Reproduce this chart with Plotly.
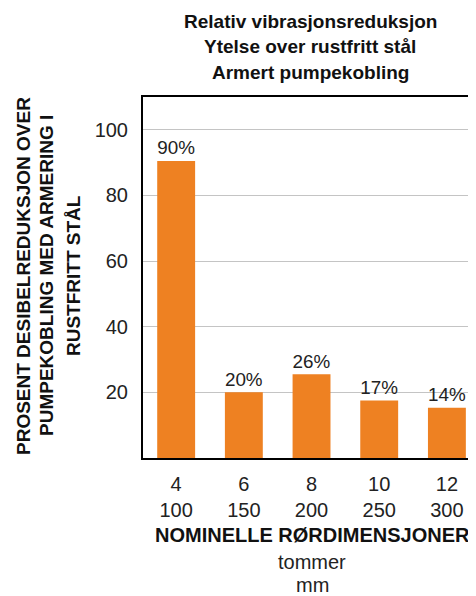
import plotly.graph_objects as go

inches = ["4", "6", "8", "10", "12"]
mm = ["100", "150", "200", "250", "300"]
values = [90.5, 20, 25.5, 17.5, 15.3]
labels = ["90%", "20%", "26%", "17%", "14%"]
y_ticks = [20, 40, 60, 80, 100]

title_lines = ["Relativ vibrasjonsreduksjon", "Ytelse over rustfritt stål", "Armert pumpekobling"]
ytitle_lines = ["PROSENT DESIBELREDUKSJON OVER", "PUMPEKOBLING MED ARMERING I", "RUSTFRITT STÅL"]
xtitle = "NOMINELLE RØRDIMENSJONER"
xunits = ["tommer", "mm"]

cats = [f"{a}<br>{b}" for a, b in zip(inches, mm)]
FONT = "Liberation Sans"

fig = go.Figure(go.Bar(
    x=list(range(len(cats))), y=values, text=labels, textposition="outside",
    textfont=dict(size=20, color="#222222", family=FONT),
    marker=dict(color="#EE8122", line=dict(width=0)), width=0.56,
    cliponaxis=False,
))

# page body has an 8px margin; figure is sized to fit the window after that offset
W, H = 468, 588
L, T, B = 135, 89, 138
fig.update_layout(
    width=W, height=H,
    margin=dict(l=L, r=0, t=T, b=B, autoexpand=False),
    paper_bgcolor="white", plot_bgcolor="white",
    showlegend=False,
    font=dict(family=FONT, color="#222222"),
)
fig.update_xaxes(
    range=[-0.49, 4.43], tickmode="array", tickvals=list(range(len(cats))), ticktext=cats,
    tickfont=dict(size=20, color="#222222"), showgrid=False,
    showline=True, linecolor="black", linewidth=2, mirror=True, ticks="",
    zeroline=False, ticklabelstandoff=7,
)
fig.update_yaxes(
    range=[0, 110], tickvals=y_ticks, tickfont=dict(size=20, color="#222222"),
    showgrid=True, gridcolor="#c4c4c4", gridwidth=1,
    showline=True, linecolor="black", linewidth=2, ticks="", zeroline=False,
    ticklabelstandoff=9,
)

plot_h = H - T - B
plot_w = W - L

def paper_x(px):
    return (px - L) / plot_w

def paper_y(py):
    return (H - B - py) / plot_h

# title lines (centres in figure pixels)
for line, cy in zip(title_lines, [13, 38, 64]):
    fig.add_annotation(
        text=f"<b>{line}</b>", xref="paper", yref="paper",
        x=paper_x(302), y=paper_y(cy), xanchor="center", yanchor="middle",
        showarrow=False, font=dict(size=19, color="#111111", family=FONT),
    )

# x-axis title and units
fig.add_annotation(
    text=f"<b>{xtitle}</b>", xref="paper", yref="paper",
    x=paper_x(304), y=paper_y(527), xanchor="center", yanchor="middle", showarrow=False,
    font=dict(size=20, color="#111111", family=FONT),
)
for line, cy in zip(xunits, [554, 577]):
    fig.add_annotation(
        text=line, xref="paper", yref="paper",
        x=paper_x(304), y=paper_y(cy), xanchor="center", yanchor="middle", showarrow=False,
        font=dict(size=20, color="#222222", family=FONT),
    )

# y-axis title lines
for line, cx in zip(ytitle_lines, [15, 38, 65]):
    fig.add_annotation(
        text=f"<b>{line}</b>", xref="paper", yref="paper",
        x=paper_x(cx), y=paper_y(268), xanchor="center", yanchor="middle",
        textangle=-90, showarrow=False,
        font=dict(size=19, color="#111111", family=FONT),
    )

fig.write_html("out.html")
